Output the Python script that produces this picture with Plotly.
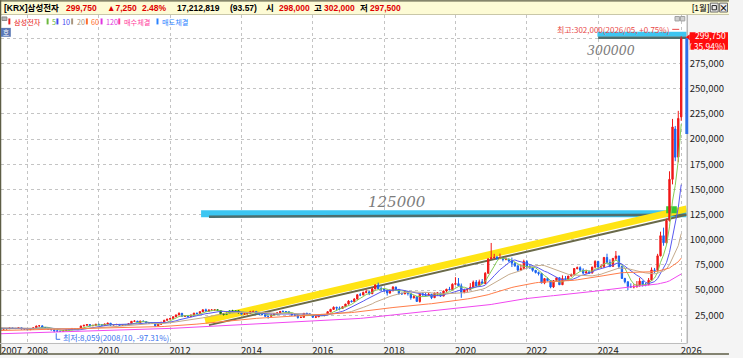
import numpy as np
import pandas as pd
import plotly.graph_objects as go

# ---------------- data: Samsung Electronics monthly candles (thousand KRW, split-adjusted) ----------------
# closes before the visible window, only used to warm up the moving averages (1997-05 .. 2007-03)
prior_closes = [
    1.30, 1.35, 1.40, 1.30, 1.20, 1.00, 0.80, 0.80,
    0.90, 0.90, 0.80, 0.75, 0.70, 0.65, 0.80, 0.90, 1.10, 1.30, 1.50, 1.80,
    1.90, 2.00, 2.40, 3.00, 3.20, 3.50, 4.00, 4.20, 4.60, 4.20, 5.00, 5.40,
    5.80, 6.20, 7.40, 6.80, 6.40, 6.60, 6.00, 5.40, 4.60, 3.60, 3.40, 3.00,
    4.00, 4.20, 3.90, 4.50, 4.30, 4.20, 3.80, 3.60, 2.80, 3.30, 4.40, 5.40,
    6.50, 6.90, 7.20, 8.00, 7.40, 7.00, 6.60, 6.80, 5.60, 6.00, 6.80, 6.40,
    5.80, 5.80, 5.70, 6.60, 7.00, 7.20, 7.40, 7.80, 7.60, 8.60, 8.80, 9.00,
    9.80, 10.40, 11.40, 12.20, 10.40, 10.60, 8.60, 8.80, 9.00, 8.60, 9.20, 9.00,
    9.60, 10.00, 10.00, 9.40, 9.50, 9.60, 11.80, 10.60, 11.60, 11.20, 12.40, 13.00,
    14.00, 13.20, 13.60, 14.00, 12.80, 12.60, 12.20, 12.80, 13.20, 13.00, 12.80, 12.40,
    11.80, 11.40, 11.60,
]
prior_first_month = "1997-05-01"
first_month = "2007-04-01"

opens = [
    11.6, 11.2, 11.4, 11.6, 12.4, 12.0, 11.8, 12.6, 11.3,
    11.2, 10.6, 11.3, 12.6, 14.3, 14.5, 12.7, 12.1, 11.0, 10.6, 9.6, 9.1,
    9.0, 9.8, 10.2, 10.6, 11.8, 11.0, 11.7, 14.3, 15.0, 15.8, 14.5, 15.0,
    16.0, 15.6, 15.1, 16.3, 17.1, 15.4, 15.6, 15.9, 14.9, 15.5, 15.1, 16.6,
    19.0, 19.2, 17.6, 19.2, 18.8, 17.4, 17.0, 17.0, 14.6, 16.1, 18.0, 20.0,
    21.1, 21.8, 23.5, 25.3, 26.9, 24.0, 24.2, 23.6, 25.3, 27.1, 26.8, 28.6,
    30.4, 29.0, 30.2, 30.2, 30.4, 29.7, 26.4, 25.7, 27.0, 29.5, 29.2, 29.4,
    27.4, 26.1, 26.4, 26.8, 28.6, 28.8, 26.6, 26.0, 25.7, 23.9, 23.9, 25.3,
    26.6, 27.3, 28.8, 28.7, 28.5, 26.9, 25.2, 24.8, 22.8, 22.9, 26.9, 26.4,
    25.3, 23.0, 23.4, 25.2, 24.9, 25.7, 28.5, 30.8, 32.9, 32.1, 31.8, 33.5,
    36.1, 39.1, 38.6, 41.1, 45.3, 45.1, 47.7, 48.4, 46.4, 51.1, 55.0, 51.3,
    51.0, 49.9, 47.2, 49.2, 53.0, 50.7, 46.7, 46.2, 48.5, 46.5, 42.4, 43.5,
    38.7, 46.2, 45.1, 44.7, 45.9, 42.5, 47.0, 47.2, 44.0, 49.1, 50.8, 50.3,
    55.8, 56.4, 54.2, 47.8, 50.0, 50.7, 52.8, 57.9, 54.0, 58.2, 56.6, 66.7,
    81.0, 82.0, 82.5, 81.4, 81.5, 80.5, 80.7, 79.0, 76.7, 74.1, 69.8, 71.3,
    78.3, 73.3, 72.1, 69.6, 67.4, 66.5, 57.0, 61.4, 59.4, 53.1, 59.4, 62.2,
    55.3, 61.5, 60.6, 64.0, 65.5, 71.4, 72.2, 69.8, 66.9, 68.0, 66.9, 72.8,
    78.5, 73.0, 73.4, 82.4, 77.5, 73.5, 81.5, 83.9, 73.4, 61.5, 58.3, 53.5,
    53.2, 53.4, 54.8, 58.9, 55.3, 55.3, 59.8, 70.0, 69.5, 84.0, 104.0, 97.0,
    119.0, 160.0, 210.0, 182.0, 222.0,
]
highs = [
    11.9, 11.8, 12.0, 13.1, 12.6, 12.3, 13.0, 12.8, 11.8,
    11.4, 11.6, 12.9, 14.6, 15.2, 14.6, 13.0, 12.3, 11.4, 10.8, 10.0, 9.6,
    10.1, 10.6, 11.0, 12.4, 12.0, 12.0, 14.6, 15.5, 16.3, 16.0, 15.4, 16.2,
    16.6, 15.8, 16.4, 17.5, 17.2, 16.0, 16.4, 16.0, 15.8, 15.7, 16.8, 19.2,
    20.0, 19.3, 19.6, 19.8, 18.9, 17.8, 17.8, 17.2, 16.4, 18.4, 20.4, 21.4,
    22.3, 23.8, 25.6, 27.9, 27.3, 24.9, 24.8, 25.5, 27.4, 27.4, 28.8, 30.8,
    31.6, 30.6, 31.0, 30.9, 31.0, 30.2, 27.0, 27.6, 29.8, 30.4, 30.2, 29.6,
    27.6, 26.8, 27.2, 29.4, 29.6, 29.2, 27.4, 26.4, 25.8, 24.6, 25.8, 27.0,
    27.9, 29.2, 29.8, 29.0, 28.6, 27.0, 26.4, 25.0, 23.9, 27.1, 27.5, 26.6,
    25.3, 24.0, 25.9, 26.3, 26.2, 28.8, 31.4, 33.8, 33.5, 33.7, 33.9, 36.3,
    40.0, 39.8, 42.0, 45.9, 47.2, 48.4, 50.7, 48.7, 52.6, 55.8, 57.4, 53.6,
    51.5, 50.4, 51.0, 53.9, 53.4, 51.0, 47.5, 48.7, 48.7, 46.7, 45.0, 44.1,
    46.7, 47.5, 47.3, 47.5, 46.0, 47.5, 47.6, 47.3, 49.3, 51.3, 53.2, 56.7,
    62.8, 62.0, 56.5, 51.4, 52.0, 56.9, 59.5, 60.0, 60.4, 61.0, 67.8, 81.3,
    96.8, 86.0, 84.0, 86.2, 82.0, 82.4, 81.4, 82.3, 77.8, 74.4, 75.8, 80.2,
    79.8, 75.8, 72.8, 70.0, 68.4, 67.0, 62.0, 62.4, 59.7, 59.6, 62.9, 62.7,
    64.6, 64.0, 64.0, 66.4, 71.7, 73.4, 73.6, 71.6, 70.2, 69.6, 73.2, 79.6,
    79.0, 75.5, 82.9, 86.1, 80.5, 81.8, 88.8, 83.4, 74.4, 62.2, 58.4, 56.7,
    55.8, 59.0, 62.2, 59.0, 57.0, 62.0, 72.5, 72.0, 86.0, 108.0, 112.0, 121.0,
    168.0, 220.0, 213.0, 228.0, 302.0,
]
lows = [
    10.9, 10.9, 11.1, 11.5, 11.4, 11.3, 11.6, 11.0, 10.8,
    10.3, 10.4, 11.1, 12.4, 13.9, 12.5, 11.6, 10.7, 10.0, 8.059, 8.6, 8.7,
    8.8, 9.5, 9.6, 10.4, 10.8, 10.8, 11.5, 14.0, 14.7, 14.2, 14.2, 14.9,
    15.0, 14.8, 15.0, 16.0, 14.5, 15.0, 15.3, 14.6, 14.6, 14.8, 14.9, 16.4,
    18.5, 17.3, 17.2, 18.4, 17.0, 16.5, 16.7, 13.5, 14.2, 15.5, 17.7, 19.6,
    20.8, 21.6, 23.2, 24.9, 23.6, 23.4, 22.8, 23.4, 24.9, 25.8, 26.3, 28.3,
    28.6, 28.8, 29.4, 29.4, 29.5, 25.2, 24.8, 25.4, 26.6, 28.7, 28.9, 26.7,
    25.8, 25.4, 25.8, 26.6, 27.6, 26.3, 25.6, 25.0, 23.7, 21.6, 23.6, 24.8,
    26.2, 27.1, 28.0, 27.6, 26.6, 24.4, 24.0, 21.6, 22.2, 22.8, 26.0, 24.8,
    22.4, 22.2, 23.4, 24.6, 24.0, 25.3, 28.0, 30.5, 29.5, 29.9, 31.2, 33.2,
    35.6, 37.6, 38.4, 40.6, 44.0, 44.8, 46.8, 45.0, 46.0, 50.6, 50.7, 48.7,
    48.1, 44.6, 46.2, 49.0, 49.4, 45.4, 45.3, 46.0, 44.6, 40.4, 41.5, 38.4,
    37.5, 44.6, 43.6, 44.5, 41.0, 42.0, 44.2, 43.2, 43.9, 47.8, 50.2, 50.0,
    55.2, 53.9, 42.3, 46.8, 47.6, 50.3, 52.2, 53.8, 53.6, 56.5, 57.0, 66.2,
    80.6, 81.6, 80.0, 80.6, 78.5, 79.6, 77.9, 72.9, 73.1, 68.3, 69.9, 71.3,
    71.2, 71.1, 68.2, 66.5, 64.5, 56.8, 55.8, 58.6, 51.8, 52.0, 58.5, 55.3,
    55.0, 60.2, 59.7, 63.4, 64.5, 70.5, 68.4, 66.0, 66.6, 66.0, 66.6, 71.4,
    71.2, 72.1, 71.8, 76.0, 72.7, 73.5, 79.1, 71.2, 61.5, 56.7, 49.9, 52.0,
    51.7, 52.4, 53.3, 53.5, 53.8, 54.9, 59.3, 66.8, 68.9, 83.5, 94.0, 95.5,
    118.0, 155.0, 178.0, 177.0, 218.0,
]
closes = [
    11.2, 11.4, 11.6, 12.4, 12.0, 11.8, 12.6, 11.3, 11.2,
    10.6, 11.3, 12.6, 14.3, 14.5, 12.7, 12.1, 11.0, 10.6, 9.6, 9.1, 9.0,
    9.8, 10.2, 10.6, 11.8, 11.0, 11.7, 14.3, 15.0, 15.8, 14.5, 15.0, 16.0,
    15.6, 15.1, 16.3, 17.1, 15.4, 15.6, 15.9, 14.9, 15.5, 15.1, 16.6, 19.0,
    19.2, 17.6, 19.2, 18.8, 17.4, 17.0, 17.0, 14.6, 16.1, 18.0, 20.0, 21.1,
    21.8, 23.5, 25.3, 26.9, 24.0, 24.2, 23.6, 25.3, 27.1, 26.8, 28.6, 30.4,
    29.0, 30.2, 30.2, 30.4, 29.7, 26.4, 25.7, 27.0, 29.5, 29.2, 29.4, 27.4,
    26.1, 26.4, 26.8, 28.6, 28.8, 26.6, 26.0, 25.7, 23.9, 23.9, 25.3, 26.6,
    27.3, 28.8, 28.7, 28.5, 26.9, 25.2, 24.8, 22.8, 22.9, 26.9, 26.4, 25.3,
    23.0, 23.4, 25.2, 24.9, 25.7, 28.5, 30.8, 32.9, 32.1, 31.8, 33.5, 36.1,
    39.1, 38.6, 41.1, 45.3, 45.1, 47.7, 48.4, 46.4, 51.1, 55.0, 51.3, 51.0,
    49.9, 47.2, 49.2, 53.0, 50.7, 46.7, 46.2, 48.5, 46.5, 42.4, 43.5, 38.7,
    46.2, 45.1, 44.7, 45.9, 42.5, 47.0, 47.2, 44.0, 49.1, 50.8, 50.3, 55.8,
    56.4, 54.2, 47.8, 50.0, 50.7, 52.8, 57.9, 54.0, 58.2, 56.6, 66.7, 81.0,
    82.0, 82.5, 81.4, 81.5, 80.5, 80.7, 79.0, 76.7, 74.1, 69.8, 71.3, 78.3,
    73.3, 72.1, 69.6, 67.4, 66.5, 57.0, 61.4, 59.4, 53.1, 59.4, 62.2, 55.3,
    61.5, 60.6, 64.0, 65.5, 71.4, 72.2, 69.8, 66.9, 68.0, 66.9, 72.8, 78.5,
    73.0, 73.4, 82.4, 77.5, 73.5, 81.5, 83.9, 73.4, 61.5, 58.3, 53.5, 53.2,
    53.4, 54.8, 58.9, 55.3, 55.3, 59.8, 70.0, 69.5, 84.0, 104.0, 97.0, 119.0,
    160.0, 212.0, 182.0, 220.5, 299.75,
]
UNIT = 1000  # values above are in thousand KRW

ma_periods = [5, 10, 20, 60, 120]
ma_colors = ["#86cc55", "#5858f0", "#c4aa8c", "#ff7d4a", "#f048f0"]
green_months = ("2013-05-01", "2013-12-01")   # candles recoloured under the yellow highlighter

header_tokens = [  # (x px, text, colour)
    (2, "[KRX]삼성전자", "#000000"), (65, "299,750", "#e00000"), (107, "▲7,250", "#e00000"),
    (143, "2.48%", "#e00000"), (178, "17,212,819", "#000000"), (232, "(93.57)", "#000000"),
    (269, "시", "#000000"), (282, "298,000", "#e00000"), (318, "고", "#000000"),
    (328, "302,000", "#e00000"), (365, "저", "#000000"), (375, "297,500", "#e00000"),
]
legend_items = [  # (x px of marker, label, colour)
    (8.5, "삼성전자", "#e82020"), (47.5, "5", "#6cb83c"), (57.5, "10", "#4646ee"),
    (72.5, "20", "#a8957e"), (87.5, "60", "#ff6a2a"), (102.5, "120", "#e034e0"),
    (120.5, "매수체결", "#ff3c9c"), (159.5, "매도체결", "#2a82ff"),
]
y_tick_vals = list(range(25000, 300001, 25000))
year_tick_dates = ["2007-04-10", "2008-01-01", "2010-01-01", "2012-01-01", "2014-01-01",
                   "2016-01-01", "2018-01-01", "2020-01-01", "2022-01-01", "2024-01-01", "2026-05-01"]
year_tick_text = ["2007", "2008", "2010", "2012", "2014", "2016", "2018", "2020", "2022", "2024", "2026"]

# user drawings (date, price) pairs
yellow_band = (("2012-12-24", 19600), ("2026-06-27", 130700))
yellow_edge = (("2013-02-02", 15200), ("2026-06-27", 124800))
cyan_band_125k = (("2012-11-13", 125900), ("2026-06-27", 125900))
cyan_edge_125k = (("2013-02-02", 122900), ("2026-06-27", 124900))
cyan_band_top = (("2023-12-25", 304000), ("2026-06-27", 304000))
cyan_edge_top = (("2024-01-01", 300600), ("2026-06-27", 300600))
green_patch = (("2025-11-28", 126400), ("2026-03-17", 133300))
sell_bar = (205000, 300000)

# ---------------- geometry ----------------
W, H = 743, 358
ML, MR, MT, MB = 1, 2, 15, 12
PW, PH = W - ML - MR, H - MT - MB
PLOT_RIGHT = 700


def px(x):
    return (x - ML) / PW


def py(y):
    return (H - MB - y) / PH


FONT = "Liberation Sans Narrow, Arial Narrow, Noto Sans CJK KR, sans-serif"
KFONT = "Noto Sans CJK KR, sans-serif"
HFONT = "Liberation Sans, Noto Sans CJK KR, sans-serif"

# ---------------- frame ----------------
dates = pd.date_range(first_month, periods=len(closes), freq="MS")
o = np.round(np.array(opens) * UNIT)
h = np.round(np.array(highs) * UNIT)
l = np.round(np.array(lows) * UNIT)
c = np.round(np.array(closes) * UNIT)
all_close = pd.Series(np.array(prior_closes + closes) * UNIT)

fig = go.Figure()

mask_green = (dates >= green_months[0]) & (dates <= green_months[1])


def masked(arr, m):
    return np.where(m, arr, np.nan)


fig.add_trace(go.Candlestick(
    x=dates, open=masked(o, ~mask_green), high=masked(h, ~mask_green),
    low=masked(l, ~mask_green), close=masked(c, ~mask_green),
    increasing=dict(line=dict(color="#f01818", width=1), fillcolor="#f01818"),
    decreasing=dict(line=dict(color="#1862f0", width=1), fillcolor="#1862f0"),
    whiskerwidth=0, hoverinfo="skip", showlegend=False))
fig.add_trace(go.Candlestick(
    x=dates, open=masked(o, mask_green), high=masked(h, mask_green),
    low=masked(l, mask_green), close=masked(c, mask_green),
    increasing=dict(line=dict(color="#18b018", width=1), fillcolor="#18b018"),
    decreasing=dict(line=dict(color="#0a700a", width=1), fillcolor="#0a700a"),
    whiskerwidth=0, hoverinfo="skip", showlegend=False))

for n, col in zip(ma_periods, ma_colors):
    ma = all_close.rolling(n).mean().to_numpy()[len(prior_closes):]
    fig.add_trace(go.Scatter(x=dates, y=ma, mode="lines", line=dict(color=col, width=1),
                             hoverinfo="skip", showlegend=False))

shapes = []
annotations = []


def band(seg, color, width, layer="between"):
    (x0, y0), (x1, y1) = seg
    shapes.append(dict(type="line", xref="x", yref="y", x0=x0, y0=y0, x1=x1, y1=y1,
                       line=dict(color=color, width=width), layer=layer))


band(cyan_band_125k, "#3cc6f2", 7)
band(cyan_edge_125k, "#4d6e6e", 2.5)
band(yellow_band, "#ffe414", 7)
band(yellow_edge, "#6a6a4a", 2)
band(cyan_band_top, "#3cc6f2", 5)
band(cyan_edge_top, "#4d6e6e", 2.5)
(gx0, gy0), (gx1, gy1) = green_patch
shapes.append(dict(type="rect", xref="x", yref="y", x0=gx0, y0=gy0, x1=gx1, y1=gy1,
                   fillcolor="#34c834", line=dict(width=0), layer="between"))


def prect(x0, y0, x1, y1, fill, line=None, lw=0):
    shapes.append(dict(type="rect", xref="paper", yref="paper", x0=px(x0), x1=px(x1),
                       y0=py(y1), y1=py(y0), fillcolor=fill,
                       line=dict(color=line or fill, width=lw), layer="above"))


def pline(x0, y0, x1, y1, color, w=1):
    shapes.append(dict(type="line", xref="paper", yref="paper", x0=px(x0), x1=px(x1),
                       y0=py(y0), y1=py(y1), line=dict(color=color, width=w), layer="above"))


def ann(x, y, text, color="#000", size=9, xanchor="left", family=FONT, bold=False, align="left"):
    if bold:
        text = "<b>" + text + "</b>"
    annotations.append(dict(xref="paper", yref="paper", x=px(x), y=py(y), text=text,
                            showarrow=False, xanchor=xanchor, yanchor="middle", align=align,
                            font=dict(family=family, size=size, color=color)))


# header bar
prect(0, 0, W, 14, "#fdfbd5")
prect(0, 0, W, 1.5, "#5e5e46")
pline(0, 14.5, W, 14.5, "#c9c7a8", 1)
for x, t, col in header_tokens:
    ann(x, 7.8, t, col, 8.5, family=HFONT, bold=True)
ann(703, 7.8, "[1월]", "#000000", 8.5, family=HFONT)
prect(724, 3, 732, 12, "#eeeeee", "#6a6a6a", 1)
prect(733.5, 3, 741.5, 12, "#eeeeee", "#6a6a6a", 1)
prect(725.8, 5.5, 730.2, 9.8, "rgba(0,0,0,0)", "#222222", 1)
ann(737.5, 7.6, "×", "#111111", 9, "center", KFONT, True)

# frame borders / axis strips
pline(0.5, 0, 0.5, H, "#5e5e46", 1.5)
pline(0, H - 0.8, W, H - 0.8, "#5e5e46", 1.5)
pline(0, 346.5, PLOT_RIGHT, 346.5, "#bdbdbd", 1)
pline(PLOT_RIGHT + 0.5, 15, PLOT_RIGHT + 0.5, 346.5, "#b8b8b8", 1.5)

# legend row
prect(2, 17, 7, 20.5, "#b4b4b4", "#8a8a8a", 1)
for x, t, col in legend_items:
    prect(x, 18.5, x + 2, 24.5, col)
    ann(x + 3.5, 21.8, t, col, 7.2, family=KFONT)
prect(688, 16.5, 692.5, 21, "#d0d0d0", "#a0a0a0", 1)
prect(693.5, 16.5, 698, 21, "#d0d0d0", "#a0a0a0", 1)

# little "호" box
prect(1, 28, 11, 37, "#5b78b5")
ann(6, 32.5, "호", "#ffffff", 6.5, "center", KFONT)

# extreme labels derived from the data
last_close = c[-1]
hi_i = int(np.argmax(h))
lo_i = int(np.argmin(l))
hi_txt = "최고:{:,}({}/{:02d}, {:+.2f}%)".format(int(h[hi_i]), dates[hi_i].year, dates[hi_i].month,
                                              (h[hi_i] / last_close - 1) * 100)
lo_txt = "최저:{:,}({}/{:02d}, {:.2f}%)".format(int(l[lo_i]), dates[lo_i].year, dates[lo_i].month,
                                             (l[lo_i] / last_close - 1) * 100)
annotations.append(dict(xref="x", yref="y", x=dates[hi_i], y=h[hi_i], text=hi_txt, showarrow=False,
                        xanchor="right", yanchor="middle", xshift=-10, yshift=7,
                        font=dict(family=KFONT, size=8, color="#e84848")))
annotations.append(dict(xref="x", yref="y", x=dates[lo_i], y=l[lo_i], text=lo_txt, showarrow=False,
                        xanchor="left", yanchor="middle", xshift=7, yshift=-5,
                        font=dict(family=KFONT, size=8, color="#3a72ee")))
# connector ticks of the extreme labels
shapes.append(dict(type="line", xref="x", yref="y", xsizemode="pixel", ysizemode="pixel",
                   xanchor=dates[hi_i], yanchor=h[hi_i], x0=-9, x1=-2, y0=7, y1=7,
                   line=dict(color="#e84848", width=1)))
shapes.append(dict(type="path", xref="x", yref="y", xsizemode="pixel", ysizemode="pixel",
                   xanchor=dates[lo_i], yanchor=l[lo_i], path="M 2 -1 L 2 -7 L 6 -7",
                   line=dict(color="#3a72ee", width=1)))

# current price box
prev_close = c[-2]
prect(703, 32.5, 742, 50, "#ff0c0c")
shapes.append(dict(type="path", xref="paper", yref="paper",
                   path="M {} {} L {} {} L {} {} Z".format(px(699), py(37.5), px(703), py(34.5), px(703), py(40.5)),
                   fillcolor="#ff0c0c", line=dict(width=0), layer="above"))
box_text = "{:,}<br>( {:.2f}%)".format(int(last_close), (last_close / prev_close - 1) * 100)
annotations.append(dict(xref="paper", yref="paper", x=px(741), y=py(41.2), text=box_text,
                        showarrow=False, xanchor="right", yanchor="middle", align="right",
                        borderpad=0, font=dict(family=FONT, size=8.5, color="#ffffff")))

# sell-execution bar on the right edge
shapes.append(dict(type="rect", xref="paper", yref="y", x0=px(698.5), x1=px(701.5),
                   y0=sell_bar[0], y1=sell_bar[1], fillcolor="#2e6fe6", line=dict(width=0), layer="above"))

# handwritten notes
ann(405, 203.5, "<i>125000</i>", "#7c7c7c", 15, "center", "DejaVu Serif, serif")
ann(623, 51, "<i>300000</i>", "#7c7c7c", 12.5, "center", "DejaVu Serif, serif")

fig.update_layout(
    width=W, height=H, autosize=False,
    margin=dict(l=ML, r=MR, t=MT, b=MB, pad=0),
    paper_bgcolor="#f4f4f4", plot_bgcolor="#ffffff",
    showlegend=False, shapes=shapes, annotations=annotations,
    xaxis=dict(type="date", domain=[0, px(PLOT_RIGHT)], range=["2007-04-05", "2026-06-27"],
               rangeslider=dict(visible=False), tickmode="array", tickvals=year_tick_dates,
               ticktext=year_tick_text, showgrid=True, gridcolor="#c4c4c4", griddash="dot",
               gridwidth=1, zeroline=False, showline=False, ticks="",
               ticklabelshift=10, ticklabelstandoff=0,
               tickfont=dict(family=FONT, size=9.5, color="#222222")),
    yaxis=dict(side="right", anchor="free", position=1.0, range=[-2560, 323200],
               tickmode="array", tickvals=y_tick_vals,
               ticktext=["{:,}".format(v) if v < 300000 else "" for v in y_tick_vals],
               ticklabelposition="inside", showgrid=True, gridcolor="#c4c4c4", griddash="dot",
               gridwidth=1, zeroline=False, showline=False, ticks="",
               tickfont=dict(family=FONT, size=9.5, color="#222222")),
)

fig.write_html("out.html", config={"displayModeBar": False})
